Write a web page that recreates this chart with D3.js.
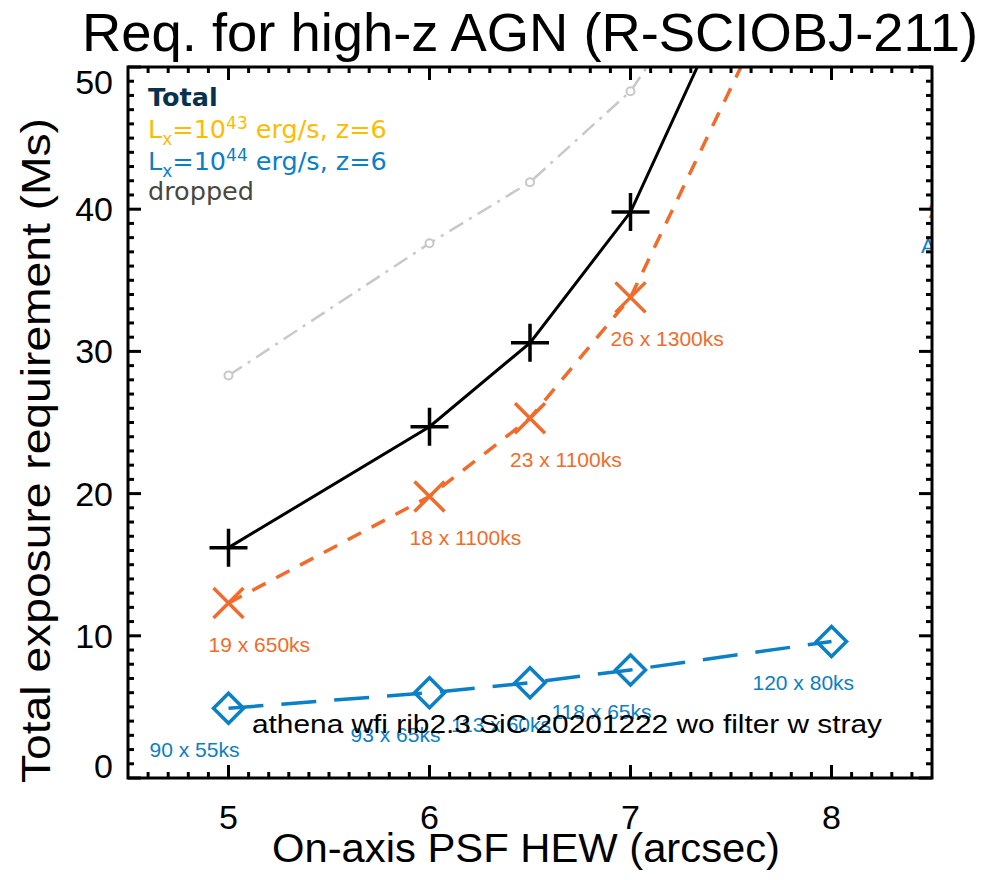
<!DOCTYPE html>
<html>
<head>
<meta charset="utf-8">
<script src="https://cdn.jsdelivr.net/npm/d3@7"></script>
<style>
    body { margin: 0; background: #fff; }
    text { font-family: "Liberation Sans", Arial, sans-serif; }
    text.legend { font-family: "DejaVu Sans", Verdana, sans-serif; }
</style>
</head>
<body>
<div id="chart"></div>
<script>
// PSF HEW values (arcsec)
const hew = [5, 6, 6.5, 7, 8];

// exposure requirement (Ms) per series
const totalMs = [16.2, 24.7, 30.6, 39.8, 70.5];
const lx43Ms = [12.3, 19.8, 25.3, 33.8, 63.3];
const lx44Ms = [4.9, 6.0, 6.7, 7.6, 9.6];
const droppedMs = [28.3, 37.6, 41.9, 48.3, 69.0];

// labels next to points
const lx43Labels = ["19 x 650ks", "18 x 1100ks", "23 x 1100ks", "26 x 1300ks", ""];
const lx44Labels = ["90 x 55ks", "93 x 65ks", "113 x 60ks", "118 x 65ks", "120 x 80ks"];

const xTicks = [5, 6, 7, 8];
const yTicks = [0, 10, 20, 30, 40, 50];

const width = 986, height = 880;
const margin = { left: 128, right: 54, top: 67, bottom: 102 };

const orange = "#f26b2a";
const blue = "#0a80c6";

const svg = d3.select("#chart")
    .append("svg")
    .attr("width", width)
    .attr("height", height);

const x = d3.scaleLinear()
    .domain([4.5, 8.5])
    .range([margin.left, width - margin.right]);

const y = d3.scaleLinear()
    .domain([0, 50])
    .range([height - margin.bottom, margin.top]);

svg.append("clipPath")
    .attr("id", "plot-clip")
    .append("rect")
    .attr("x", margin.left)
    .attr("y", margin.top)
    .attr("width", x(8.5) - x(4.5))
    .attr("height", y(0) - y(50));

const plot = svg.append("g").attr("clip-path", "url(#plot-clip)");

// title
svg.append("text")
    .attr("x", 82)
    .attr("y", 51)
    .attr("textLength", 896)
    .attr("lengthAdjust", "spacingAndGlyphs")
    .style("font-size", "54px")
    .text("Req. for high-z AGN (R-SCIOBJ-211)");

// axis titles
svg.append("text")
    .attr("x", 272)
    .attr("y", 862)
    .attr("textLength", 508)
    .attr("lengthAdjust", "spacingAndGlyphs")
    .style("font-size", "41px")
    .text("On-axis PSF HEW (arcsec)");

svg.append("text")
    .attr("transform", "translate(50, 783) rotate(-90)")
    .attr("textLength", 665)
    .attr("lengthAdjust", "spacingAndGlyphs")
    .style("font-size", "41px")
    .text("Total exposure requirement (Ms)");

// series lines
const line = (vals) => d3.line()
    .x((d, i) => x(hew[i]))
    .y((d) => y(d))(vals);

plot.append("path")
    .attr("d", line(droppedMs))
    .attr("fill", "none")
    .attr("stroke", "#c8c8c8")
    .attr("stroke-width", 2.5)
    .attr("stroke-dasharray", "16 7 3 7");

plot.selectAll(".drop-pt")
    .data(droppedMs)
    .enter()
    .append("circle")
    .attr("cx", (d, i) => x(hew[i]))
    .attr("cy", (d) => y(d))
    .attr("r", 4)
    .attr("fill", "#fff")
    .attr("stroke", "#c8c8c8")
    .attr("stroke-width", 2);

plot.append("path")
    .attr("d", line(totalMs))
    .attr("fill", "none")
    .attr("stroke", "#000")
    .attr("stroke-width", 3);

plot.append("path")
    .attr("d", line(lx43Ms))
    .attr("fill", "none")
    .attr("stroke", orange)
    .attr("stroke-width", 3.5)
    .attr("stroke-dasharray", "15 12");

plot.append("path")
    .attr("d", line(lx44Ms))
    .attr("fill", "none")
    .attr("stroke", blue)
    .attr("stroke-width", 3.5)
    .attr("stroke-dasharray", "35 18");

// markers
plot.selectAll(".plus")
    .data(totalMs)
    .enter()
    .append("path")
    .attr("transform", (d, i) => `translate(${x(hew[i])},${y(d)})`)
    .attr("d", "M-19,0H19M0,-19V19")
    .attr("stroke", "#000")
    .attr("stroke-width", 3.5);

plot.selectAll(".cross")
    .data(lx43Ms)
    .enter()
    .append("path")
    .attr("transform", (d, i) => `translate(${x(hew[i])},${y(d)})`)
    .attr("d", "M-15,-15L15,15M-15,15L15,-15")
    .attr("stroke", orange)
    .attr("stroke-width", 3.5);

plot.selectAll(".diamond")
    .data(lx44Ms)
    .enter()
    .append("path")
    .attr("transform", (d, i) => `translate(${x(hew[i])},${y(d)})`)
    .attr("d", "M0,-15L15,0L0,15L-15,0Z")
    .attr("fill", "none")
    .attr("stroke", blue)
    .attr("stroke-width", 3.5);

// point labels
svg.selectAll(".lab43")
    .data(lx43Ms)
    .enter()
    .append("text")
    .attr("x", (d, i) => x(hew[i]) - 20)
    .attr("y", (d) => y(d) + 49)
    .style("font-size", "21px")
    .style("fill", orange)
    .text((d, i) => lx43Labels[i]);

svg.selectAll(".lab44")
    .data(lx44Ms)
    .enter()
    .append("text")
    .attr("x", (d, i) => x(hew[i]) - 79)
    .attr("y", (d) => y(d) + 49)
    .style("font-size", "21px")
    .style("fill", blue)
    .text((d, i) => lx44Labels[i]);

// stray labels cut at the right edge
plot.append("text")
    .attr("x", 921)
    .attr("y", 253)
    .style("font-size", "21px")
    .style("fill", blue)
    .text("A");

plot.append("text")
    .attr("x", 928)
    .attr("y", 218)
    .style("font-size", "21px")
    .style("fill", orange)
    .text("2");

// configuration note
svg.append("text")
    .attr("x", 252)
    .attr("y", 733)
    .attr("textLength", 630)
    .attr("lengthAdjust", "spacingAndGlyphs")
    .style("font-size", "25px")
    .style("fill", "#000")
    .text("athena wfi rib2.3 SiC 20201222 wo filter w stray");

// legend
const legend = svg.append("g");

legend.append("text")
    .attr("class", "legend")
    .attr("x", 148)
    .attr("y", 106)
    .style("font-size", "25.5px")
    .style("font-weight", "bold")
    .style("fill", "#06324f")
    .text("Total");

const lxLine = (yPos, power, color) => {
    const t = legend.append("text")
        .attr("class", "legend")
        .attr("x", 148)
        .attr("y", yPos)
        .style("font-size", "25.5px")
        .style("fill", color);
    t.append("tspan").text("L");
    t.append("tspan").attr("dy", 7).style("font-size", "17px").text("x");
    t.append("tspan").attr("dy", -7).text("=10");
    t.append("tspan").attr("dy", -9).style("font-size", "17px").text(power);
    t.append("tspan").attr("dy", 9).text(" erg/s, z=6");
};
lxLine(138, "43", "#ffbb00");
lxLine(170, "44", blue);

legend.append("text")
    .attr("class", "legend")
    .attr("x", 148)
    .attr("y", 200)
    .style("font-size", "25.5px")
    .style("fill", "#48483f")
    .text("dropped");

// axes frame and ticks
const frame = svg.append("g")
    .attr("stroke", "#000")
    .attr("stroke-width", 3)
    .attr("fill", "none");

frame.append("rect")
    .attr("x", x(4.5))
    .attr("y", y(50))
    .attr("width", x(8.5) - x(4.5))
    .attr("height", y(0) - y(50));

const xMinor = d3.range(46, 85).map((d) => d / 10);
const yMinor = d3.range(0, 51);

xMinor.forEach((v) => {
    const len = xTicks.includes(v) ? 13 : 6;
    frame.append("line").attr("x1", x(v)).attr("x2", x(v))
        .attr("y1", y(0)).attr("y2", y(0) - len);
    frame.append("line").attr("x1", x(v)).attr("x2", x(v))
        .attr("y1", y(50)).attr("y2", y(50) + len);
});

yMinor.forEach((v) => {
    const len = v % 10 === 0 ? 13 : 6;
    frame.append("line").attr("y1", y(v)).attr("y2", y(v))
        .attr("x1", x(4.5)).attr("x2", x(4.5) + len);
    frame.append("line").attr("y1", y(v)).attr("y2", y(v))
        .attr("x1", x(8.5)).attr("x2", x(8.5) - len);
});

// tick labels
svg.selectAll(".xlab")
    .data(xTicks)
    .enter()
    .append("text")
    .attr("x", (d) => x(d))
    .attr("y", 829)
    .attr("text-anchor", "middle")
    .style("font-size", "34px")
    .text((d) => d);

svg.selectAll(".ylab")
    .data(yTicks)
    .enter()
    .append("text")
    .attr("x", 113)
    .attr("y", (d) => Math.min(y(0) - 12, Math.max(y(50) + 15, y(d))) + 12)
    .attr("text-anchor", "end")
    .style("font-size", "34px")
    .text((d) => d);
</script>
</body>
</html>
